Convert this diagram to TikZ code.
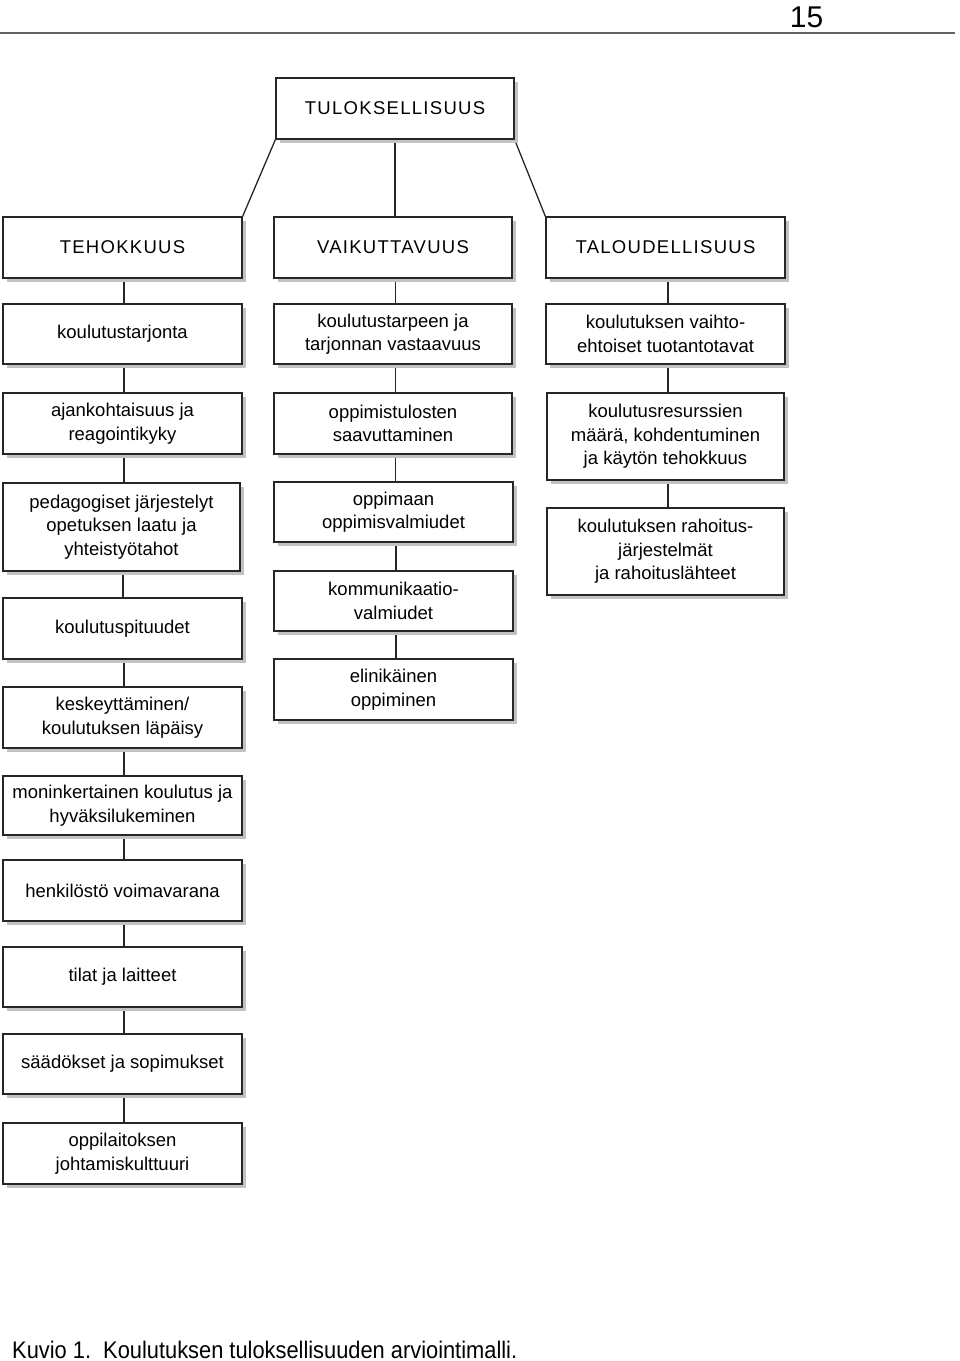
\documentclass[tikz,border=0pt]{standalone}
\usepackage{fontspec}
\setmainfont{Liberation Sans}
\usetikzlibrary{shadows,backgrounds}
\tikzset{
  box/.style={draw=black!85, line width=1.3pt, fill=white, rectangle, inner sep=0pt,
    align=center, font=\fontsize{18.5}{23.5}\selectfont,
    drop shadow={shadow xshift=4pt, shadow yshift=-4pt, fill=black!24, opacity=1}},
  caps/.style={font=\fontsize{18.5}{23.5}\selectfont\addfontfeature{LetterSpace=7}},
  conn/.style={draw=black!85, line width=1.3pt},
}
\begin{document}
\begin{tikzpicture}[x=1pt,y=-1pt]
\useasboundingbox (0,0) rectangle (960,1361);
% header
\node[anchor=base, font=\fontsize{30}{30}\selectfont] (pg) at (806.5,27) {15};
\draw[line width=2pt, black!62] (0,33) -- (955,33);
% top
\node[box, caps, minimum width=238, minimum height=61] (tul) at (395,108.5) {TULOKSELLISUUS};
% row 2
\node[box, caps, minimum width=239, minimum height=61] (teh) at (122.5,247.5) {TEHOKKUUS};
\node[box, caps, minimum width=238, minimum height=61] (vai) at (393,247.5) {VAIKUTTAVUUS};
\node[box, caps, minimum width=239, minimum height=61] (tal) at (665.5,247.5) {TALOUDELLISUUS};
% left column
\node[box, minimum width=239, minimum height=60] (k1) at (122.5,334) {koulutustarjonta};
\node[box, minimum width=239, minimum height=61] (k2) at (122.5,423.5) {ajankohtaisuus ja\\reagointikyky};
\node[box, minimum width=237, minimum height=88] (k3) at (121.5,527) {pedagogiset järjestelyt\\opetuksen laatu ja\\yhteistyötahot};
\node[box, minimum width=239, minimum height=61] (k4) at (122.5,628.5) {koulutuspituudet};
\node[box, minimum width=239, minimum height=61] (k5) at (122.5,717.5) {keskeyttäminen/\\koulutuksen läpäisy};
\node[box, minimum width=239, minimum height=59] (k6) at (122.5,805.5) {moninkertainen koulutus ja\\hyväksilukeminen};
\node[box, minimum width=239, minimum height=61] (k7) at (122.5,890.5) {henkilöstö voimavarana};
\node[box, minimum width=239, minimum height=60] (k8) at (122.5,977) {tilat ja laitteet};
\node[box, minimum width=239, minimum height=60] (k9) at (122.5,1064) {säädökset ja sopimukset};
\node[box, minimum width=239, minimum height=61] (k10) at (122.5,1153.5) {oppilaitoksen\\johtamiskulttuuri};
% middle column
\node[box, minimum width=238, minimum height=60] (v1) at (393,334) {koulutustarpeen ja\\tarjonnan vastaavuus};
\node[box, minimum width=238, minimum height=61] (v2) at (393,423.5) {oppimistulosten\\saavuttaminen};
\node[box, minimum width=239, minimum height=60] (v3) at (393.5,512) {oppimaan\\oppimisvalmiudet};
\node[box, minimum width=239, minimum height=60] (v4) at (393.5,601) {kommunikaatio-\\valmiudet};
\node[box, minimum width=239, minimum height=61] (v5) at (393.5,689.5) {elinikäinen\\oppiminen};
% right column
\node[box, minimum width=239, minimum height=60] (t1) at (665.5,334) {koulutuksen vaihto-\\ehtoiset tuotantotavat};
\node[box, minimum width=237, minimum height=87] (t2) at (665.5,436.5) {koulutusresurssien\\määrä, kohdentuminen\\ja käytön tehokkuus};
\node[box, minimum width=237, minimum height=87] (t3) at (665.5,551.5) {koulutuksen rahoitus-\\järjestelmät\\ja rahoituslähteet};
% caption
\node[anchor=base west, inner sep=0pt, font=\fontsize{24}{28}\selectfont] (cap) at (12,1358) {\scalebox{0.91}[1]{Kuvio 1.\ \ Koulutuksen tuloksellisuuden arviointimalli.}};
% connectors
\begin{scope}[on background layer]
\draw[conn] (tul.south west) -- (teh.north east);
\draw[conn] (tul.south east) -- (tal.north west);
\draw[conn] (tul.south) -- (tul.south |- vai.north);
\foreach \a/\b in {teh/k1,k1/k2,k2/k3,k3/k4,k4/k5,k5/k6,k6/k7,k7/k8,k8/k9,k9/k10}
  \draw[conn] ([xshift=1.5pt]\a.south) -- ([xshift=1.5pt]\a.south |- \b.north);
\foreach \a/\b in {vai/v1,v1/v2,v2/v3,v3/v4,v4/v5}
  \draw[conn] ([xshift=2.5pt]\a.south) -- ([xshift=2.5pt]\a.south |- \b.north);
\foreach \a/\b in {tal/t1,t1/t2,t2/t3}
  \draw[conn] ([xshift=2.5pt]\a.south) -- ([xshift=2.5pt]\a.south |- \b.north);
\end{scope}
\end{tikzpicture}
\end{document}
